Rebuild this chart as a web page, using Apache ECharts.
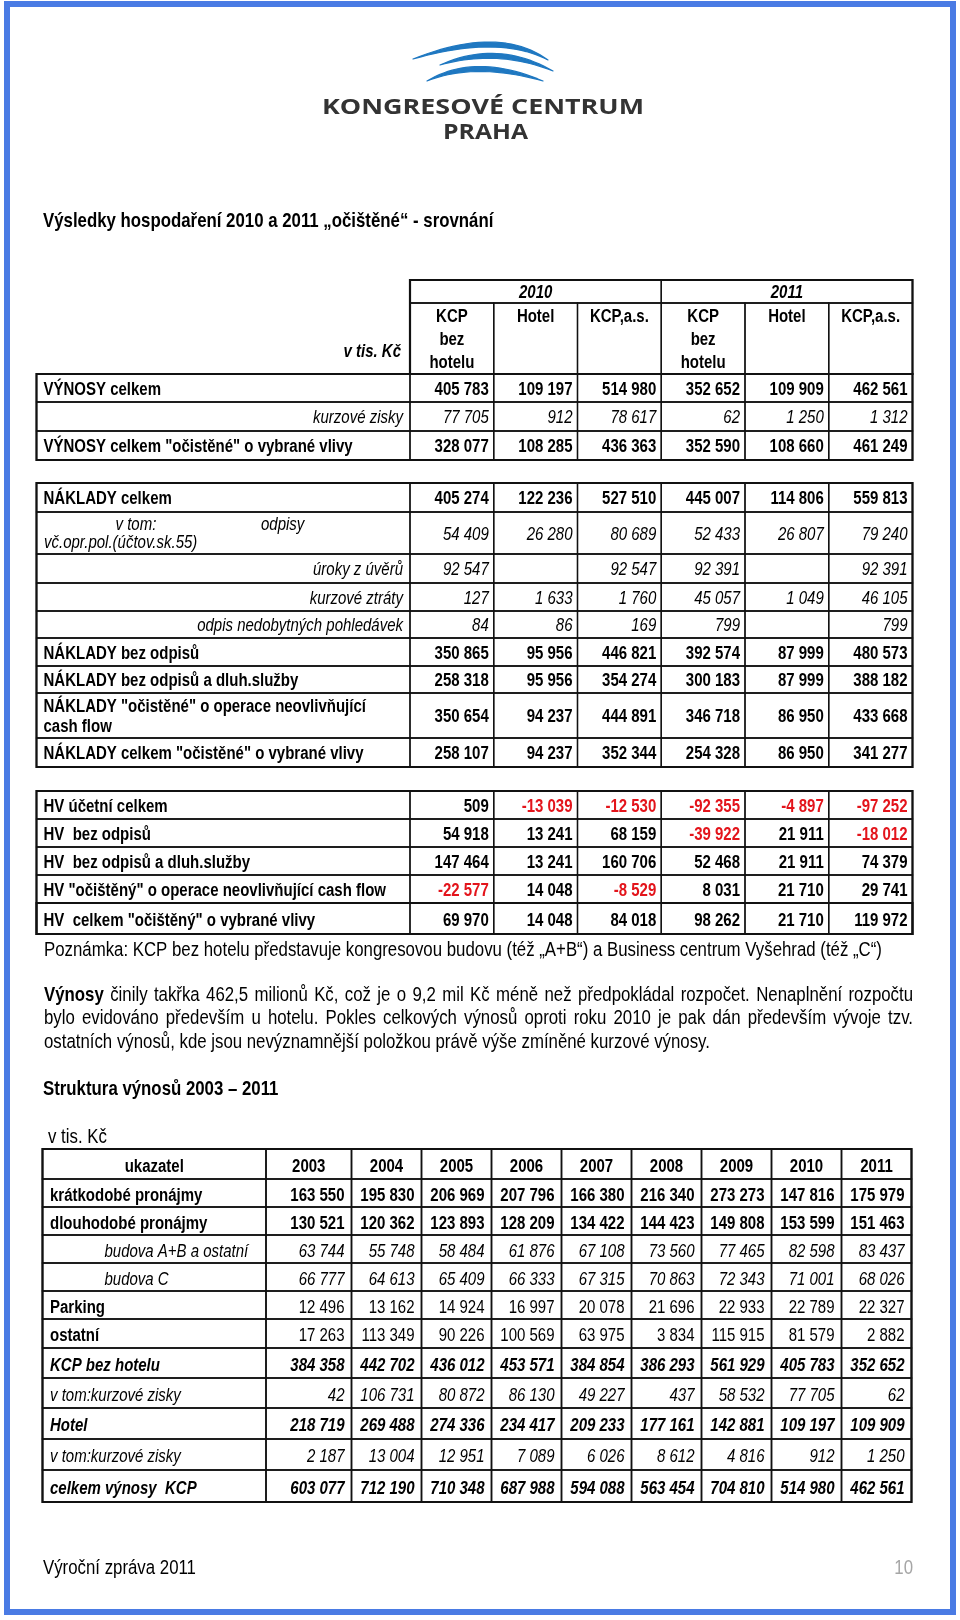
<!DOCTYPE html>
<html><head><meta charset="utf-8">
<script src="https://cdn.jsdelivr.net/npm/echarts@6/dist/echarts.min.js"></script>
<style>html,body{margin:0;padding:0;background:#fff}#c{width:960px;height:1620px}</style>
</head><body><div id="c"></div>
<script>
// ================= DATA =================
const docTitle = 'Výsledky hospodaření 2010 a 2011 „očištěné“ - srovnání';
const logoLines = ['KONGRESOVÉ CENTRUM', 'PRAHA'];

const t1Years = ['2010', '2011'];
const t1Columns = ['KCP\nbez\nhotelu', 'Hotel', 'KCP,a.s.', 'KCP\nbez\nhotelu', 'Hotel', 'KCP,a.s.'];
const t1Unit = 'v tis. Kč';
const t1Rows = ['VÝNOSY celkem', 'kurzové zisky', 'VÝNOSY celkem "očistěné" o vybrané vlivy'];
const t1Values = [
  [405783, 109197, 514980, 352652, 109909, 462561],
  [77705, 912, 78617, 62, 1250, 1312],
  [328077, 108285, 436363, 352590, 108660, 461249]
];

const t2Rows = [
  'NÁKLADY celkem',
  ['v tom:', 'odpisy', 'vč.opr.pol.(účtov.sk.55)'],
  'úroky z úvěrů',
  'kurzové ztráty',
  'odpis nedobytných pohledávek',
  'NÁKLADY bez odpisů',
  'NÁKLADY bez odpisů a dluh.služby',
  'NÁKLADY "očistěné" o operace neovlivňující\ncash flow',
  'NÁKLADY celkem "očistěné" o vybrané vlivy'
];
const t2Values = [
  [405274, 122236, 527510, 445007, 114806, 559813],
  [54409, 26280, 80689, 52433, 26807, 79240],
  [92547, null, 92547, 92391, null, 92391],
  [127, 1633, 1760, 45057, 1049, 46105],
  [84, 86, 169, 799, null, 799],
  [350865, 95956, 446821, 392574, 87999, 480573],
  [258318, 95956, 354274, 300183, 87999, 388182],
  [350654, 94237, 444891, 346718, 86950, 433668],
  [258107, 94237, 352344, 254328, 86950, 341277]
];

const t3Rows = [
  'HV účetní celkem',
  'HV  bez odpisů',
  'HV  bez odpisů a dluh.služby',
  'HV "očištěný" o operace neovlivňující cash flow',
  'HV  celkem "očištěný" o vybrané vlivy'
];
const t3Values = [
  [509, -13039, -12530, -92355, -4897, -97252],
  [54918, 13241, 68159, -39922, 21911, -18012],
  [147464, 13241, 160706, 52468, 21911, 74379],
  [-22577, 14048, -8529, 8031, 21710, 29741],
  [69970, 14048, 84018, 98262, 21710, 119972]
];

const noteText = 'Poznámka: KCP bez hotelu představuje kongresovou budovu (též „A+B“) a Business centrum Vyšehrad (též „C“)';
const paraLines = [
  'Výnosy činily takřka 462,5 milionů Kč, což je o 9,2 mil Kč méně než předpokládal rozpočet. Nenaplnění rozpočtu',
  'bylo evidováno především u hotelu. Pokles celkových výnosů oproti roku 2010 je pak dán především vývoje tzv.',
  'ostatních výnosů, kde jsou nevýznamnější položkou právě výše zmíněné kurzové výnosy.'
];
const paraBoldWord = 'Výnosy';
const t4Title = 'Struktura výnosů 2003 – 2011';
const t4Unit = 'v tis. Kč';
const t4Header = 'ukazatel';
const t4Years = ['2003', '2004', '2005', '2006', '2007', '2008', '2009', '2010', '2011'];
const t4Rows = [
  'krátkodobé pronájmy', 'dlouhodobé pronájmy', 'budova A+B a ostatní', 'budova C', 'Parking', 'ostatní',
  'KCP bez hotelu', 'v tom:kurzové zisky', 'Hotel', 'v tom:kurzové zisky', 'celkem výnosy  KCP'
];
const t4Values = [
  [163550, 195830, 206969, 207796, 166380, 216340, 273273, 147816, 175979],
  [130521, 120362, 123893, 128209, 134422, 144423, 149808, 153599, 151463],
  [63744, 55748, 58484, 61876, 67108, 73560, 77465, 82598, 83437],
  [66777, 64613, 65409, 66333, 67315, 70863, 72343, 71001, 68026],
  [12496, 13162, 14924, 16997, 20078, 21696, 22933, 22789, 22327],
  [17263, 113349, 90226, 100569, 63975, 3834, 115915, 81579, 2882],
  [384358, 442702, 436012, 453571, 384854, 386293, 561929, 405783, 352652],
  [42, 106731, 80872, 86130, 49227, 437, 58532, 77705, 62],
  [218719, 269488, 274336, 234417, 209233, 177161, 142881, 109197, 109909],
  [2187, 13004, 12951, 7089, 6026, 8612, 4816, 912, 1250],
  [603077, 712190, 710348, 687988, 594088, 563454, 704810, 514980, 462561]
];
const footerText = 'Výroční zpráva 2011';
const pageNumber = '10';

// ================= STYLES / LAYOUT =================
const TS = 18.3, PS = 20.5;
const B = {bold: true}, I = {italic: true}, BI = {bold: true, italic: true}, R = {};
const PB = {bold: true, size: PS}, PR = {size: PS};
const t1Style = [{label: B, val: B}, {label: Object.assign({align: 'right'}, I), val: I}, {label: B, val: B}];
const t2Style = [
  {label: B, val: B}, {label: I, val: I, special: true},
  {label: Object.assign({align: 'right'}, I), val: I}, {label: Object.assign({align: 'right'}, I), val: I},
  {label: Object.assign({align: 'right'}, I), val: I},
  {label: B, val: B}, {label: B, val: B}, {label: Object.assign({lineHeight: 19.5}, B), val: B}, {label: B, val: B}
];
const t4Style = [
  {label: B, val: B}, {label: B, val: B},
  {label: Object.assign({pad: 62}, I), val: I}, {label: Object.assign({pad: 62}, I), val: I},
  {label: B, val: R}, {label: B, val: R},
  {label: BI, val: BI}, {label: I, val: I}, {label: BI, val: BI}, {label: I, val: I}, {label: BI, val: BI}
];
const numColW = [83.75, 83.75, 83.75, 83.75, 83.75, 83.75];
const L1 = {left: 36.5, top: 280, colW: [373.5].concat(numColW), rowH: [23, 71, 28, 29, 29], dy: 1.5};
const L2 = {left: 36.5, top: 483, colW: [373.5].concat(numColW), rowH: [29, 42, 29, 28, 27, 28, 27, 45, 29], dy: 1.5};
const L3 = {left: 36.5, top: 791, colW: [373.5].concat(numColW), rowH: [28, 28, 28, 28, 31], dy: 2};
const L4 = {left: 42.5, top: 1149, colW: [223.5, 85.5, 70, 70, 70, 70, 70, 70, 70, 70], rowH: [30, 28, 28, 28, 28, 28, 29, 30, 30, 31, 31, 32], dy: 2.5};
const INNER = 1.3, OUTER = 2.2, RED = '#e3141b';

// ================= FONTS =================
const HAS_NARROW = (function () {
  const ctx = document.createElement('canvas').getContext('2d');
  ctx.font = '40px "Liberation Sans Narrow", monospace';
  const a = ctx.measureText('abcdefghijklmnopqrs').width;
  ctx.font = '40px monospace';
  const b = ctx.measureText('abcdefghijklmnopqrs').width;
  return Math.abs(a - b) > 0.5;
})();
const FAMILY = HAS_NARROW ? '"Liberation Sans Narrow", "Arial Narrow", sans-serif' : '"Liberation Sans", Arial, sans-serif';
const SX = HAS_NARROW ? 1 : 0.82;
function font(o) { return (o.italic ? 'italic ' : '') + (o.bold ? 'bold ' : '') + (o.size || TS) + 'px ' + FAMILY; }
const mctx = document.createElement('canvas').getContext('2d');
function mw(t, o) { mctx.font = font(o); return mctx.measureText(t).width * SX; }

function textEl(x, y, t, o) {
  const va = o.valign || 'middle', al = o.align || 'left';
  const st = {x: 0, y: 0, text: t, font: font(o), fill: o.color || '#000',
    textAlign: al, align: al, textVerticalAlign: va, verticalAlign: va};
  if (o.lineHeight) st.lineHeight = o.lineHeight;
  return {type: 'text', x: x, y: y, scaleX: o.sx || SX, silent: true, style: st};
}

function fmt(v) {
  if (v === null || v === undefined) return '';
  const s = String(Math.abs(v)).replace(/\B(?=(\d{3})+(?!\d))/g, ' ');
  return (v < 0 ? '-' : '') + s;
}

// ================= TABLE BUILDING =================
function cum(arr, n) { let s = 0; for (let i = 0; i < n; i++) s += arr[i]; return s; }
function sum(arr) { return cum(arr, arr.length); }

function valueCells(specs, values, styles, rowOffset, pad) {
  values.forEach((row, r) => {
    row.forEach((v, c) => {
      const st = styles[r].val;
      specs.push({c0: c + 1, c1: c + 2, r0: r + rowOffset, r1: r + rowOffset + 1, border: INNER,
        texts: v === null ? [] : [Object.assign({t: fmt(v), align: 'right', pad: pad, color: v < 0 ? RED : '#000'}, st)]});
    });
  });
}

// Table 1
const S1 = [];
t1Years.forEach((y, i) => S1.push({c0: 1 + 3 * i, c1: 4 + 3 * i, r0: 0, r1: 1, border: INNER, texts: [Object.assign({t: y, align: 'center'}, BI)]}));
S1.push({c0: 0, c1: 1, r0: 1, r1: 2, border: 0, texts: [Object.assign({t: t1Unit, align: 'right', pad: 9, padT: 40}, BI)]});
t1Columns.forEach((h, i) => S1.push({c0: i + 1, c1: i + 2, r0: 1, r1: 2, border: INNER, texts: [Object.assign({t: h, align: 'center', padT: 2.5, lineHeight: 23}, B)]}));
t1Rows.forEach((lab, r) => S1.push({c0: 0, c1: 1, r0: r + 2, r1: r + 3, border: INNER, texts: [Object.assign({t: lab, pad: 7, align: 'left'}, t1Style[r].label)]}));
valueCells(S1, t1Values, t1Style, 2, 5);
S1.push({c0: 1, c1: 7, r0: 0, r1: 2, border: OUTER, texts: []});
S1.push({c0: 0, c1: 7, r0: 2, r1: 5, border: OUTER, texts: []});

// Table 2
const S2 = [];
t2Rows.forEach((lab, r) => {
  const st = t2Style[r];
  let texts;
  if (st.special) {
    texts = [Object.assign({t: lab[0], dx: 79, dy: -10}, I), Object.assign({t: lab[1], dx: 224.5, dy: -10}, I), Object.assign({t: lab[2], dx: 7.5, dy: 8}, I)];
  } else {
    texts = [Object.assign({t: lab, pad: 7, align: 'left'}, st.label)];
  }
  S2.push({c0: 0, c1: 1, r0: r, r1: r + 1, border: INNER, texts: texts});
});
valueCells(S2, t2Values, t2Style, 0, 5);
S2.push({c0: 0, c1: 7, r0: 0, r1: 9, border: OUTER, texts: []});

// Table 3
const S3 = [];
const t3Style = t3Rows.map(() => ({label: B, val: B}));
t3Rows.forEach((lab, r) => S3.push({c0: 0, c1: 1, r0: r, r1: r + 1, border: INNER, texts: [Object.assign({t: lab, pad: 7}, B)]}));
valueCells(S3, t3Values, t3Style, 0, 5);
S3.push({c0: 0, c1: 7, r0: 4, r1: 5, border: 2, texts: []});
S3.push({c0: 0, c1: 7, r0: 0, r1: 5, border: OUTER, texts: []});

// Table 4
const S4 = [];
S4.push({c0: 0, c1: 1, r0: 0, r1: 1, border: 1.5, texts: [Object.assign({t: t4Header, align: 'center'}, B)]});
t4Years.forEach((y, i) => S4.push({c0: i + 1, c1: i + 2, r0: 0, r1: 1, border: 1.5, texts: [Object.assign({t: y, align: 'center'}, B)]}));
t4Rows.forEach((lab, r) => S4.push({c0: 0, c1: 1, r0: r + 1, r1: r + 2, border: 1.5, texts: [Object.assign({t: lab, pad: 7.5}, t4Style[r].label)]}));
t4Values.forEach((row, r) => row.forEach((v, c) => S4.push({c0: c + 1, c1: c + 2, r0: r + 1, r1: r + 2, border: 1.5,
  texts: [Object.assign({t: fmt(v), align: 'right', pad: 7, color: v < 0 ? RED : '#000'}, t4Style[r].val)]})));
S4.push({c0: 0, c1: 10, r0: 0, r1: 12, border: OUTER, texts: []});

const tables = [[L1, S1], [L2, S2], [L3, S3], [L4, S4]];

function renderer(specs, baseDy) {
  return function (params, api) {
    const s = specs[api.value(4)];
    const a = api.coord([api.value(0), api.value(1)]);
    const b = api.coord([api.value(2), api.value(3)]);
    const ch = [];
    if (s.border) ch.push({type: 'rect', shape: {x: a[0], y: a[1], width: b[0] - a[0], height: b[1] - a[1]},
      style: {fill: 'none', stroke: '#111', lineWidth: s.border}});
    s.texts.forEach(tx => {
      let x;
      if (tx.dx != null) x = a[0] + tx.dx;
      else if (tx.align === 'right') x = b[0] - (tx.pad != null ? tx.pad : 5);
      else if (tx.align === 'center') x = (a[0] + b[0]) / 2;
      else x = a[0] + (tx.pad != null ? tx.pad : 7);
      let y, va = 'middle';
      if (tx.padT != null) { y = a[1] + tx.padT; va = 'top'; }
      else y = (a[1] + b[1]) / 2 + (tx.dy || 0) + baseDy;
      ch.push(textEl(x, y, tx.t, Object.assign({}, tx, {valign: va, align: tx.dx != null ? 'left' : (tx.align || 'left')})));
    });
    return {type: 'group', children: ch};
  };
}

// ================= GRAPHIC (page decorations / prose) =================
const G = [];
G.push({type: 'rect', shape: {x: 7, y: 4, width: 946, height: 1608}, style: {fill: 'none', stroke: '#4a7be4', lineWidth: 6}});
// logo brush strokes (lens shaped polygons)
function quad(p0, c, p1, t) {
  const u = 1 - t;
  return [u * u * p0[0] + 2 * u * t * c[0] + t * t * p1[0], u * u * p0[1] + 2 * u * t * c[1] + t * t * p1[1]];
}
[[413, 59, 499.5, 29.5, 548, 60], [440, 65, 497.5, 44, 553, 71], [427, 81, 475, 57, 543, 81]].forEach(w => {
  const pts = [];
  const p0 = [w[0], w[1]], p1 = [w[4], w[5]];
  for (let k = 0; k <= 24; k++) pts.push(quad(p0, [w[2], w[3] - 5], p1, k / 24));
  for (let k = 24; k >= 0; k--) pts.push(quad(p0, [w[2], w[3] + 5], p1, k / 24));
  G.push({type: 'polygon', shape: {points: pts}, style: {fill: '#1f78c1', stroke: '#1f78c1', lineWidth: 1.2, lineJoin: 'round'}});
});
(function () {
  const LF = 'bold 21px "Open Sans", sans-serif';
  mctx.font = LF;
  const w1 = mctx.measureText(logoLines[0]).width, w2 = mctx.measureText(logoLines[1]).width;
  [[logoLines[0], 483, 108.5, 322 / w1], [logoLines[1], 485.5, 133.5, 85 / w2]].forEach(l => {
    G.push({type: 'text', x: l[1], y: l[2], scaleX: l[3], silent: true,
      style: {x: 0, y: 0, text: l[0], font: LF, fill: '#333',
        textAlign: 'center', align: 'center', textVerticalAlign: 'middle', verticalAlign: 'middle'}});
  });
})();
G.push(textEl(43, 221, docTitle, PB));
G.push(textEl(44, 950, noteText, PR));
// justified paragraph
paraLines.forEach((line, li) => {
  const words = line.split(' ');
  const y = [995, 1018, 1042][li];
  const x0 = 44, x1 = 913;
  const ws = words.map(w => ({t: w, o: w === paraBoldWord && li === 0 ? PB : PR}));
  const widths = ws.map(w => mw(w.t, w.o));
  const justify = li < paraLines.length - 1;
  const gap = justify ? (x1 - x0 - sum(widths)) / (ws.length - 1) : mw(' ', PR);
  let x = x0;
  ws.forEach((w, i) => { G.push(textEl(x, y, w.t, w.o)); x += widths[i] + gap; });
});
G.push(textEl(43, 1089, t4Title, PB));
G.push(textEl(48, 1137, t4Unit, PR));
G.push(textEl(43, 1568, footerText, PR));
G.push(textEl(913, 1568, pageNumber, {align: 'right', color: '#a6a6a6', size: PS}));

// ================= CHART =================
const chart = echarts.init(document.getElementById('c'), null, {renderer: 'canvas', width: 960, height: 1620});
chart.setOption({
  animation: false,
  backgroundColor: '#fff',
  grid: tables.map(t => ({left: t[0].left, top: t[0].top, width: sum(t[0].colW), height: sum(t[0].rowH), show: false})),
  xAxis: tables.map((t, i) => ({type: 'value', gridIndex: i, min: 0, max: sum(t[0].colW), show: false})),
  yAxis: tables.map((t, i) => ({type: 'value', gridIndex: i, min: 0, max: sum(t[0].rowH), inverse: true, show: false})),
  series: tables.map((t, i) => ({
    type: 'custom', xAxisIndex: i, yAxisIndex: i, silent: true, clip: false,
    renderItem: renderer(t[1], t[0].dy),
    encode: {x: [0, 2], y: [1, 3]},
    data: t[1].map((s, k) => [cum(t[0].colW, s.c0), cum(t[0].rowH, s.r0), cum(t[0].colW, s.c1), cum(t[0].rowH, s.r1), k])
  })),
  graphic: G
});
</script>
</body></html>
